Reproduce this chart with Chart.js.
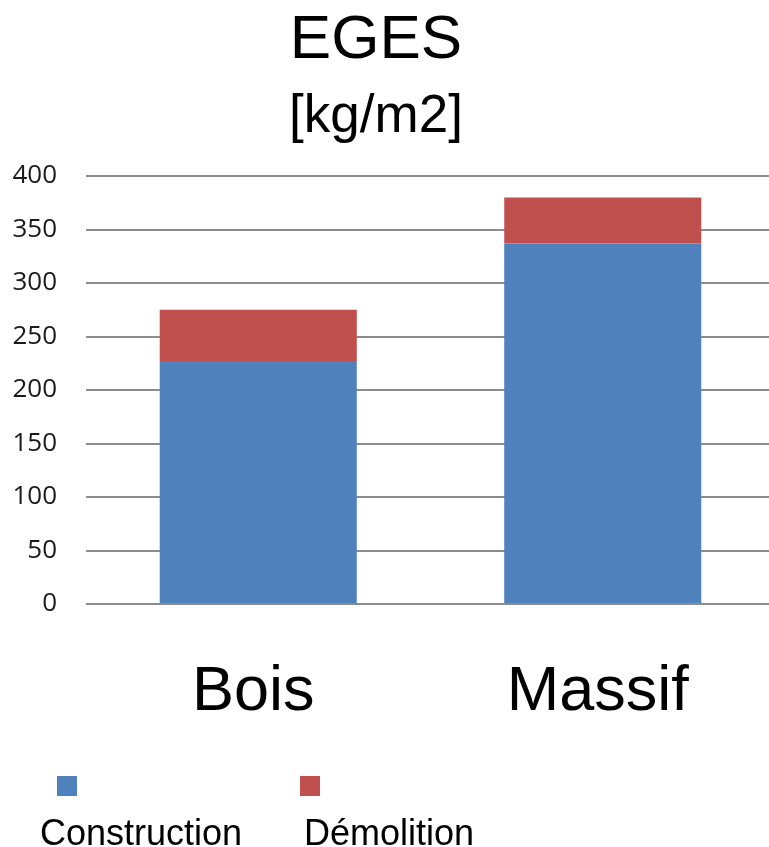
<!DOCTYPE html>
<html>
<head>
<meta charset="utf-8">
<script src="https://cdn.jsdelivr.net/npm/chart.js@4"></script>
<style>
html,body{margin:0;padding:0;background:#fff;overflow:hidden;}
#wrap{position:relative;width:769px;height:847px;overflow:hidden;}
</style>
</head>
<body>
<div id="wrap"><canvas id="c" width="775" height="847"></canvas></div>
<script>
const categories = ["Bois", "Massif"];
const construction = [227, 337];
const demolition = [48, 43];
const seriesNames = ["Construction", "Démolition"];
const yTicks = [0, 50, 100, 150, 200, 250, 300, 350, 400];
const titleText = "EGES";
const subtitleText = "[kg/m2]";

const titleLines = {
  id: 'titleLines',
  afterDraw(chart, args, opts) {
    const ctx = chart.ctx;
    ctx.save();
    ctx.fillStyle = '#000';
    ctx.textAlign = 'center';
    ctx.textBaseline = 'alphabetic';
    opts.lines.forEach(l => {
      ctx.font = l.font;
      ctx.fillText(l.text, opts.x, l.y);
    });
    ctx.restore();
  }
};

const legendBelow = {
  id: 'legendBelow',
  afterDraw(chart, args, opts) {
    const ctx = chart.ctx;
    ctx.save();
    chart.data.datasets.forEach((ds, i) => {
      const it = opts.items[i];
      ctx.fillStyle = ds.backgroundColor;
      ctx.fillRect(it.sx, opts.squareY, opts.squareSize, opts.squareSize);
      ctx.fillStyle = '#000';
      ctx.font = opts.font;
      ctx.textAlign = 'center';
      ctx.textBaseline = 'alphabetic';
      ctx.fillText(ds.label, it.tx, opts.textY);
    });
    ctx.restore();
  }
};

new Chart(document.getElementById('c'), {
  type: 'bar',
  data: {
    labels: categories,
    datasets: [
      { label: seriesNames[0], data: construction, backgroundColor: '#4f81bd', borderWidth: 0 },
      { label: seriesNames[1], data: demolition, backgroundColor: '#c0504d', borderWidth: 0 }
    ]
  },
  options: {
    responsive: false,
    animation: false,
    layout: { padding: { left: 0, right: 0, top: 176, bottom: 121 } },
    datasets: { bar: { categoryPercentage: 0.572, barPercentage: 1.0 } },
    scales: {
      x: {
        stacked: true,
        grid: { display: false, drawTicks: false },
        border: { display: false },
        ticks: { color: '#000', padding: 51, labelOffset: -5, maxRotation: 0, minRotation: 0,
                 font: { family: 'Liberation Sans, Arial, sans-serif', size: 63 } },
        afterFit(s) { s.paddingLeft = 0; s.paddingRight = 0; s.height = 122; }
      },
      y: {
        stacked: true,
        min: 0, max: 400,
        afterBuildTicks(axis) { axis.ticks = yTicks.map(v => ({ value: v })); },
        grid: { color: '#8c8c8c', lineWidth: 2, drawTicks: false },
        border: { display: false },
        ticks: { color: '#1a1a1a', padding: 29, font: { family: 'Open Sans, sans-serif', size: 26 } },
        afterFit(s) { s.width = 86; s.paddingTop = 0; s.paddingBottom = 0; }
      }
    },
    plugins: {
      legend: { display: false },
      tooltip: { enabled: false },
      title: { display: false },
      titleLines: {
        x: 376,
        lines: [
          { text: titleText, font: '62px "Liberation Sans", Arial, sans-serif', y: 58 },
          { text: subtitleText, font: '53px "Liberation Sans", Arial, sans-serif', y: 132 }
        ]
      },
      legendBelow: {
        squareY: 776, squareSize: 20,
        font: '36px "Liberation Sans", Arial, sans-serif',
        textY: 845,
        items: [ { sx: 57, tx: 141 }, { sx: 300, tx: 389 } ]
      }
    }
  },
  plugins: [titleLines, legendBelow]
});
</script>
</body>
</html>
